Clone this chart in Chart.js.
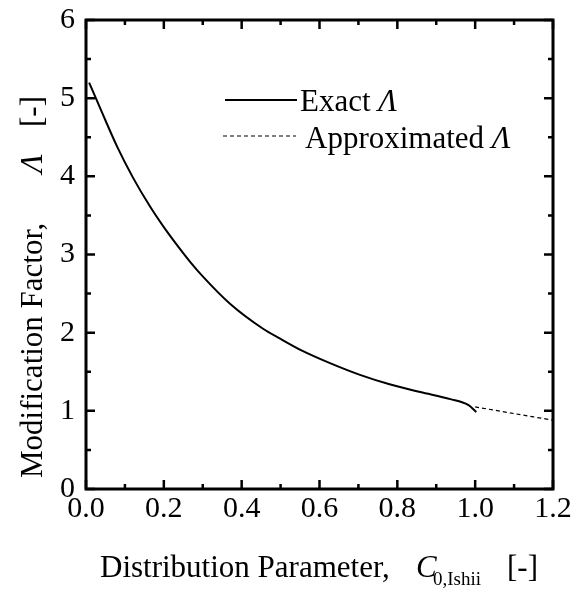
<!DOCTYPE html>
<html>
<head>
<meta charset="utf-8">
<script src="https://cdn.jsdelivr.net/npm/chart.js@4.4.1/dist/chart.umd.min.js"></script>
<style>
html,body{margin:0;padding:0;background:#fff;}
#wrap{width:587px;height:589px;}
</style>
</head>
<body>
<div id="wrap"><canvas id="c" width="587" height="589"></canvas></div>
<script>
// Data
const exactX = [0.008, 0.04, 0.08, 0.12, 0.165, 0.2, 0.234, 0.267, 0.3, 0.37, 0.455, 0.5, 0.555, 0.627, 0.704, 0.78, 0.859, 0.936, 0.982, 1.003];
const exactY = [5.2, 4.83, 4.38, 3.99, 3.61, 3.35, 3.12, 2.91, 2.72, 2.37, 2.05, 1.92, 1.77, 1.61, 1.46, 1.34, 1.24, 1.15, 1.075, 0.985];
const approxX = [1.0, 1.1, 1.2];
const approxY = [1.05, 0.965, 0.88];
const xTickLabels = ['0.0', '0.2', '0.4', '0.6', '0.8', '1.0', '1.2'];
const yTickLabels = ['0', '1', '2', '3', '4', '5', '6'];
const seriesNames = ['Exact ', 'Approximated '];
const xTitle = 'Distribution Parameter,';
const yTitle = 'Modification Factor,';

const FONT = '"Liberation Serif", "Times New Roman", serif';

const toPts = (xs, ys) => xs.map((x, i) => ({x: x, y: ys[i]}));

const framePlugin = {
  id: 'frame',
  afterDraw(chart) {
    const ctx = chart.ctx;
    const a = chart.chartArea;
    const xs = chart.scales.x, ys = chart.scales.y;
    ctx.save();
    ctx.strokeStyle = '#000';
    ctx.lineCap = 'butt';
    // inward ticks
    ctx.lineWidth = 2.5;
    for (let v = 0; v <= 12; v++) {
      const px = xs.getPixelForValue(v / 10);
      const len = (v % 2 === 0) ? 9 : 5;
      ctx.beginPath();
      ctx.moveTo(px, a.bottom); ctx.lineTo(px, a.bottom - len);
      ctx.moveTo(px, a.top); ctx.lineTo(px, a.top + len);
      ctx.stroke();
    }
    for (let v = 0; v <= 12; v++) {
      const py = ys.getPixelForValue(v / 2);
      const len = (v % 2 === 0) ? 9 : 5;
      ctx.beginPath();
      ctx.moveTo(a.left, py); ctx.lineTo(a.left + len, py);
      ctx.moveTo(a.right, py); ctx.lineTo(a.right - len, py);
      ctx.stroke();
    }
    ctx.lineWidth = 3;
    ctx.strokeRect(a.left, a.top, a.right - a.left, a.bottom - a.top);

    // legend
    ctx.fillStyle = '#000';
    ctx.textBaseline = 'alphabetic';
    ctx.textAlign = 'left';
    ctx.lineWidth = 2;
    ctx.beginPath(); ctx.moveTo(225, 100); ctx.lineTo(297, 100); ctx.stroke();
    ctx.font = '31px ' + FONT;
    ctx.fillText(seriesNames[0], 300, 111);
    let w = ctx.measureText(seriesNames[0]).width;
    ctx.font = 'italic 31px ' + FONT;
    ctx.fillText('\u039B', 300 + w, 111);

    ctx.lineWidth = 1.2;
    ctx.setLineDash([4, 3]);
    ctx.beginPath(); ctx.moveTo(223, 136); ctx.lineTo(296, 136); ctx.stroke();
    ctx.setLineDash([]);
    ctx.font = '31px ' + FONT;
    ctx.fillText(seriesNames[1], 305, 148);
    w = ctx.measureText(seriesNames[1]).width;
    ctx.font = 'italic 31px ' + FONT;
    ctx.fillText('\u039B', 305 + w, 148);

    // x title
    ctx.font = '31px ' + FONT;
    ctx.fillText(xTitle, 100, 577);
    ctx.font = 'italic 31px ' + FONT;
    ctx.fillText('C', 416, 577);
    ctx.font = '19px ' + FONT;
    ctx.fillText('0,Ishii', 433, 585);
    ctx.font = '31px ' + FONT;
    ctx.fillText('[-]', 507, 577);

    // y title (rotated)
    ctx.save();
    ctx.translate(42, 0);
    ctx.rotate(-Math.PI / 2);
    ctx.font = '31px ' + FONT;
    ctx.fillText(yTitle, -478, 0);
    ctx.font = 'italic 31px ' + FONT;
    ctx.fillText('\u039B', -173, 0);
    ctx.font = '31px ' + FONT;
    ctx.fillText('[-]', -127, 0);
    ctx.restore();

    ctx.restore();
  }
};

new Chart(document.getElementById('c'), {
  type: 'line',
  data: {
    datasets: [
      {
        label: 'Exact',
        data: toPts(exactX, exactY),
        borderColor: '#000',
        borderWidth: 2,
        pointRadius: 0,
        fill: false,
        cubicInterpolationMode: 'monotone'
      },
      {
        label: 'Approximated',
        data: toPts(approxX, approxY),
        borderColor: '#000',
        borderWidth: 1.2,
        borderDash: [4, 3],
        pointRadius: 0,
        fill: false,
        tension: 0.3
      }
    ]
  },
  options: {
    responsive: false,
    animation: false,
    layout: { padding: { left: 0, top: 20, right: 34, bottom: 0 } },
    plugins: { legend: { display: false }, tooltip: { enabled: false } },
    scales: {
      x: {
        type: 'linear', min: 0, max: 1.2,
        grid: { display: false }, border: { display: false },
        afterBuildTicks: s => { s.ticks = xTickLabels.map(t => ({value: parseFloat(t)})); },
        afterFit: s => { s.height = 100; s.paddingLeft = 0; s.paddingRight = 0; },
        ticks: {
          padding: -6, color: '#000', maxRotation: 0, autoSkip: false,
          font: { family: FONT, size: 30 },
          callback: (v, i) => xTickLabels[i]
        }
      },
      y: {
        type: 'linear', min: 0, max: 6,
        grid: { display: false }, border: { display: false },
        afterBuildTicks: s => { s.ticks = yTickLabels.map(t => ({value: parseFloat(t)})); },
        afterFit: s => { s.width = 86; s.paddingTop = 0; s.paddingBottom = 0; },
        ticks: {
          padding: 3, color: '#000', autoSkip: false,
          font: { family: FONT, size: 30 },
          callback: (v, i) => yTickLabels[i]
        }
      }
    }
  },
  plugins: [framePlugin]
});
</script>
</body>
</html>
